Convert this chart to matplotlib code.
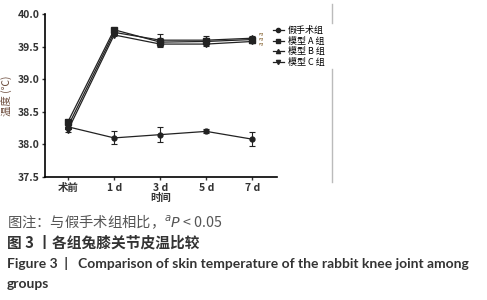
import matplotlib
matplotlib.use("Agg")
import matplotlib.pyplot as plt
from matplotlib.lines import Line2D

plt.rcParams['font.family'] = ['Noto Sans CJK SC', 'DejaVu Sans']

# Data
days = ['术前', '1 d', '3 d', '5 d', '7 d']
sham = [38.27, 38.10, 38.15, 38.20, 38.08]
sham_err = [0.03, 0.10, 0.11, 0.03, 0.11]
model_a = [38.35, 39.76, 39.57, 39.58, 39.61]
model_a_err = [0.03, 0.02, 0.06, 0.04, 0.03]
model_b = [38.28, 39.72, 39.60, 39.60, 39.63]
model_b_err = [0.04, 0.02, 0.10, 0.07, 0.03]
model_c = [38.22, 39.68, 39.54, 39.54, 39.58]
model_c_err = [0.03, 0.02, 0.03, 0.03, 0.03]
labels = ['假手术组', '模型 A 组', '模型 B 组', '模型 C 组']

fig = plt.figure(figsize=(4.87, 3.0), dpi=100)
ax = fig.add_axes([0.0924, 0.41, 0.477, 0.543])

x = range(len(days))
series = [(sham, sham_err, 'o', 3.5), (model_a, model_a_err, 's', 4),
          (model_b, model_b_err, '^', 4), (model_c, model_c_err, 'v', 4)]
for vals, err, m, ms in series:
    ax.errorbar(x, vals, yerr=err, color='#222222', marker=m, markersize=ms,
                linewidth=0.9, elinewidth=0.8, capsize=2, capthick=0.8)

ax.set_xlim(-0.5, 4.54)
ax.set_ylim(37.5, 40.0)
ax.set_yticks([37.5, 38.0, 38.5, 39.0, 39.5, 40.0])
ax.set_yticklabels(['37.5', '38.0', '38.5', '39.0', '39.5', '40.0'])
ax.set_xticks(list(x))
ax.set_xticklabels(days)
for s in ['top', 'right']:
    ax.spines[s].set_visible(False)
for s in ['left', 'bottom']:
    ax.spines[s].set_linewidth(1.2)
ax.tick_params(axis='both', labelsize=7.5, length=2.5, width=1, colors='#333333',
               labelcolor='#333333', pad=1.5)
for t in ax.get_yticklabels() + ax.get_xticklabels():
    t.set_fontweight('bold')
ax.set_ylabel('温度 (℃)', fontsize=7.5, color='#6b4a3a', labelpad=4)
ax.set_xlabel('时间', fontsize=7.5, color='#333333', labelpad=0, fontweight='bold')

# significance marks at 7 d
for yy in [39.71, 39.63, 39.55]:
    ax.text(4.2, yy, 'a', fontsize=4.5, color='#8a6a3a', rotation=90,
            ha='center', va='center')

handles = [Line2D([], [], color='#222222', marker=m, markersize=3, linewidth=0.9)
           for _, _, m, _ in series]
ax.legend(handles, labels, loc='upper left', bbox_to_anchor=(0.965, 0.95),
          frameon=False, fontsize=6.5, handlelength=1.2, handletextpad=0.5,
          labelspacing=0.2, borderaxespad=0)

# gray border line on the right
fig.add_artist(Line2D([332 / 487, 332 / 487], [1 - 4 / 300, 1 - 23 / 300],
                      color='#bbbbbb', linewidth=1))
fig.add_artist(Line2D([332 / 487, 332 / 487], [1 - 69 / 300, 1 - 182 / 300],
                      color='#bbbbbb', linewidth=1))

fig.text(7 / 487, 1 - 222 / 300, r'图注：与假手术组相比，$^{a}\mathit{P}$ < 0.05',
         fontsize=10.3, color='#555555', va='center')
fig.text(7 / 487, 1 - 242 / 300, '图 3 丨各组兔膝关节皮温比较',
         fontsize=10.6, color='#333333', va='center', fontweight='bold')
fig.text(7 / 487, 1 - 263 / 300,
         'Figure 3  |   Comparison of skin temperature of the rabbit knee joint among',
         fontsize=10, color='#333333', va='center', fontweight='bold',
         family=['Lato', 'DejaVu Sans'])
fig.text(7 / 487, 1 - 284 / 300, 'groups',
         fontsize=10, color='#333333', va='center', fontweight='bold',
         family=['Lato', 'DejaVu Sans'])

fig.savefig('out.png', dpi=100)
